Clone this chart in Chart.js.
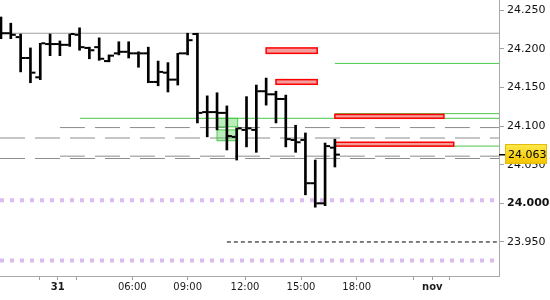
<!DOCTYPE html>
<html>
<head>
<meta charset="utf-8">
<script src="https://cdn.jsdelivr.net/npm/chart.js@4.4.1/dist/chart.umd.min.js"></script>
<style>
  html, body { margin: 0; padding: 0; background: #fff; }
  #wrap { width: 550px; height: 300px; }
</style>
</head>
<body>
<div id="wrap"><canvas id="priceChart" width="550" height="300"></canvas></div>
<script>
// OHLC bars, one entry per bar (x = bar index)
const opens  = [24.227, 24.220, 24.215, 24.188, 24.163, 24.206, 24.206, 24.205, 24.218, 24.201,
                24.202, 24.184, 24.194, 24.196, 24.194, 24.194, 24.157, 24.169, 24.160, 24.194,
                24.219, 24.118, 24.118, 24.117, 24.086, 24.095, 24.095, 24.145, 24.141, 24.135,
                24.082, 24.082, 24.026, 24.000, 24.072];
const highs  = [24.241, 24.233, 24.219, 24.201, 24.207, 24.219, 24.210, 24.219, 24.227, 24.202,
                24.214, 24.192, 24.209, 24.209, 24.196, 24.202, 24.184, 24.182, 24.194, 24.220,
                24.220, 24.139, 24.143, 24.126, 24.097, 24.138, 24.153, 24.162, 24.145, 24.140,
                24.101, 24.091, 24.056, 24.078, 24.083];
const lows   = [24.213, 24.213, 24.170, 24.156, 24.160, 24.191, 24.191, 24.203, 24.198, 24.187,
                24.185, 24.183, 24.192, 24.188, 24.176, 24.156, 24.152, 24.144, 24.153, 24.192,
                24.104, 24.086, 24.095, 24.069, 24.056, 24.073, 24.066, 24.127, 24.104, 24.073,
                24.066, 24.011, 23.995, 23.997, 24.047];
const closes = [24.220, 24.218, 24.188, 24.169, 24.207, 24.206, 24.205, 24.219, 24.202, 24.198,
                24.187, 24.191, 24.196, 24.194, 24.194, 24.157, 24.170, 24.160, 24.194, 24.211,
                24.117, 24.118, 24.117, 24.087, 24.097, 24.097, 24.145, 24.141, 24.135, 24.083,
                24.079, 24.026, 24.000, 24.074, 24.063];

// axis ticks
const xTickPos    = [3.97, 5.77, 7.71, 13.37, 19.01, 24.85, 30.55, 36.22, 41.99, 43.92, 45.62];
const xTickLabels = ['', '31', '', '06:00', '09:00', '12:00', '15:00', '18:00', '', 'nov', ''];
const boldLabels  = ['31', 'nov'];
const yTicks      = [23.95, 24.00, 24.05, 24.10, 24.15, 24.20, 24.25];

const xMin = -0.1, xMax = 50.71;
const yMin = 23.906, yMax = 24.263;

// horizontal levels (price) and the bar index where each one starts
const solidLevels     = [24.220];
const solidStarts     = [xMin];
const greenLevels     = [24.181, 24.116, 24.110, 24.074];
const greenStarts     = [34, 34, 8.04, 34];
const grayDashLevels  = [24.098, 24.0845, 24.061, 24.058];
const grayDashStarts  = [6.0, xMin, 6.0, xMin];
const dottedLevels    = [24.004, 23.926];
const dottedEnd       = 50.2;
const blackDashLevels = [23.950];
const blackDashStarts = [23.0];

// zones: [x start, x end, top price, bottom price]
const redZones = [
  [27.0, 32.2, 24.201, 24.194],
  [28.0, 32.2, 24.160, 24.154],
  [34.0, 45.1, 24.115, 24.110],
  [34.0, 46.1, 24.079, 24.074]
];
const greenZones = [
  [22.0, 24.1, 24.110, 24.099],
  [22.0, 24.1, 24.095, 24.081]
];

function levelLine(y, x0, x1, color, width, dash) {
  return {
    type: 'line',
    data: [{x: x0, y: y}, {x: x1, y: y}],
    borderColor: color,
    borderWidth: width,
    borderDash: dash,
    pointRadius: 0,
    fill: false
  };
}

const datasets = [{
  type: 'bar',
  data: highs.map((h, i) => ({x: i, y: [lows[i], h]})),
  backgroundColor: '#000',
  borderWidth: 0,
  barThickness: 2
}];
solidLevels.forEach((v, i) => datasets.push(levelLine(v, solidStarts[i], xMax, '#a0a0a0', 1, [])));
greenLevels.forEach((v, i) => datasets.push(levelLine(v, greenStarts[i], xMax, '#48c848', 1, [])));
grayDashLevels.forEach((v, i) => datasets.push(levelLine(v, grayDashStarts[i], xMax, '#8c8c8c', 1, [25, 10])));
dottedLevels.forEach(v => datasets.push(levelLine(v, xMin, dottedEnd, '#dcbcf0', 4, [4, 6])));
blackDashLevels.forEach((v, i) => datasets.push(levelLine(v, blackDashStarts[i], xMax, '#000', 1, [4, 3])));

// zones drawn just before the OHLC bars
const zonePlugin = {
  id: 'zones',
  beforeDatasetDraw(chart, args) {
    if (args.index !== 0) return;
    const {ctx, scales: {x, y}} = chart;
    const drawZone = (z, fill, stroke, lw) => {
      const x0 = x.getPixelForValue(z[0]), x1 = x.getPixelForValue(z[1]);
      const y0 = y.getPixelForValue(z[2]), y1 = y.getPixelForValue(z[3]);
      ctx.save();
      ctx.fillStyle = fill;
      ctx.fillRect(x0, y0, x1 - x0, y1 - y0);
      ctx.strokeStyle = stroke;
      ctx.lineWidth = lw;
      ctx.strokeRect(x0, y0, x1 - x0, y1 - y0);
      ctx.restore();
    };
    greenZones.forEach(z => drawZone(z, 'rgba(60,200,60,0.35)', '#44cc44', 1));
    redZones.forEach(z => drawZone(z, 'rgba(235,60,60,0.5)', '#ff0000', 1.5));
  }
};

// open / close ticks of the OHLC bars
const ohlcTicks = {
  id: 'ohlcTicks',
  afterDatasetsDraw(chart) {
    const {ctx, scales: {x, y}} = chart;
    ctx.save();
    ctx.fillStyle = '#000';
    opens.forEach((o, i) => {
      const px = x.getPixelForValue(i);
      ctx.fillRect(px - 5, y.getPixelForValue(o) - 1, 4, 2);
      ctx.fillRect(px + 1, y.getPixelForValue(closes[i]) - 1, 4, 2);
    });
    ctx.restore();
  }
};

// yellow last price label on the price axis
const lastPrice = {
  id: 'lastPrice',
  afterDraw(chart) {
    const {ctx, chartArea, scales: {y}} = chart;
    const last = closes[closes.length - 1];
    const py = Math.round(y.getPixelForValue(last));
    const left = chartArea.right + 6, w = 42, h = 20, top = py - 11;
    ctx.save();
    ctx.fillStyle = '#000';
    ctx.fillRect(chartArea.right, py - 1, 7, 1.5);
    const g = ctx.createLinearGradient(0, top, 0, top + h);
    g.addColorStop(0, '#ffe94a');
    g.addColorStop(1, '#f4c300');
    ctx.fillStyle = g;
    ctx.fillRect(left, top, w, h);
    ctx.strokeStyle = '#e2bb10';
    ctx.lineWidth = 1;
    ctx.strokeRect(left + 0.5, top + 0.5, w - 1, h - 1);
    ctx.fillStyle = '#000';
    ctx.font = '11px "DejaVu Sans"';
    ctx.textBaseline = 'middle';
    ctx.fillText(last.toFixed(3), left + 3, top + h / 2 + 1);
    ctx.restore();
  }
};

new Chart(document.getElementById('priceChart').getContext('2d'), {
  type: 'bar',
  data: {datasets: datasets},
  options: {
    responsive: false,
    animation: false,
    layout: {padding: 0},
    plugins: {legend: {display: false}, tooltip: {enabled: false}},
    scales: {
      x: {
        type: 'linear',
        min: xMin,
        max: xMax,
        offset: false,
        afterBuildTicks: s => { s.ticks = xTickPos.map(v => ({value: v})); },
        afterFit: s => { s.height = 24; s.paddingLeft = 0; s.paddingRight = 0; },
        ticks: {
          autoSkip: false,
          maxRotation: 0,
          padding: 1,
          color: '#1a1a1a',
          font: c => ({family: 'DejaVu Sans', size: 10,
                       weight: boldLabels.includes(xTickLabels[c.index]) ? 'bold' : 'normal'}),
          callback: (v, i) => xTickLabels[i]
        },
        grid: {display: true, offset: false, drawOnChartArea: false, tickLength: 4, color: '#a0a0a0'},
        border: {display: true, color: '#a8a8a8'}
      },
      y: {
        position: 'right',
        min: yMin,
        max: yMax,
        afterBuildTicks: s => { s.ticks = yTicks.map(v => ({value: v})); },
        afterFit: s => { s.width = 51; s.paddingTop = 0; s.paddingBottom = 0; },
        ticks: {
          padding: 3,
          color: '#111',
          font: c => ({family: 'DejaVu Sans', size: 11,
                       weight: c.tick && Math.abs(c.tick.value - Math.round(c.tick.value)) < 1e-9 ? 'bold' : 'normal'}),
          callback: v => v.toFixed(3)
        },
        grid: {display: true, drawOnChartArea: false, tickLength: 5, color: '#a0a0a0'},
        border: {display: true, color: '#a8a8a8'}
      }
    }
  },
  plugins: [zonePlugin, ohlcTicks, lastPrice]
});
</script>
</body>
</html>
